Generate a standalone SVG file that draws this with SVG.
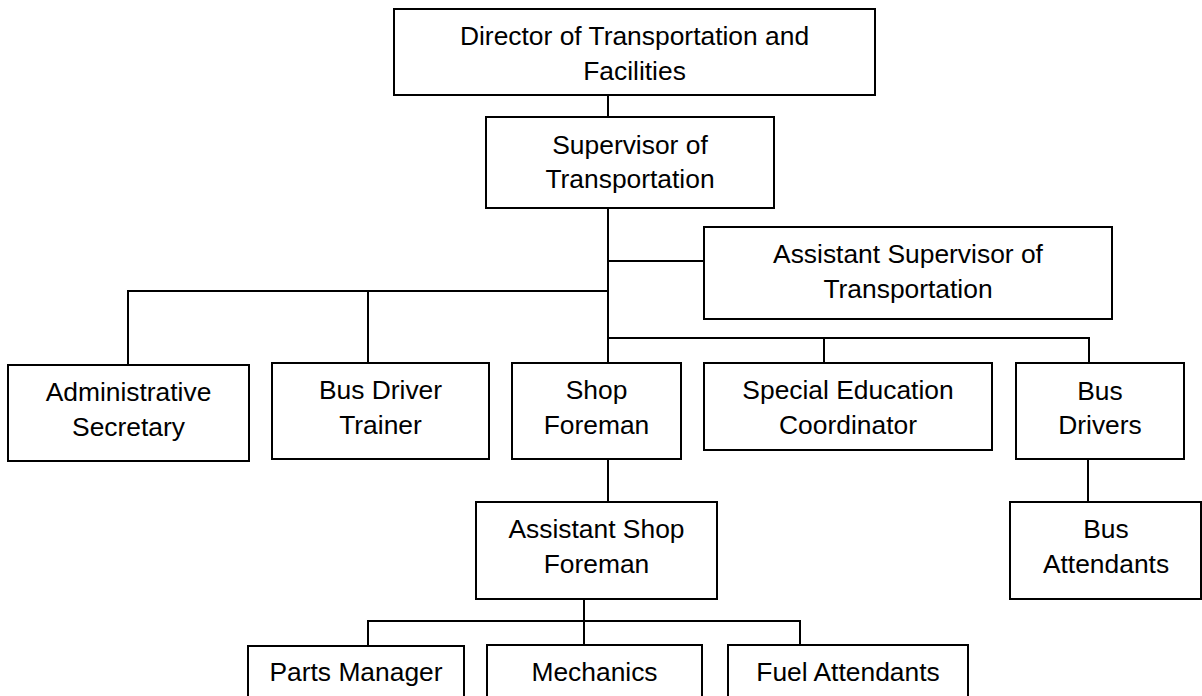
<svg xmlns="http://www.w3.org/2000/svg" width="1202" height="696" viewBox="0 0 1202 696">
<style>
.box{fill:#fff;stroke:#000;stroke-width:2}
.ln{fill:none;stroke:#000;stroke-width:2}
text{font-family:"Liberation Sans",Arial,sans-serif;font-size:26.4px;fill:#000;text-anchor:middle}
</style>
<rect width="1202" height="696" fill="#fff"/>
<g id="connectors" class="ln">
<path d="M608 95V117"/>
<path d="M608 208V363"/>
<path d="M608 261H704"/>
<path d="M128 365V291H608"/>
<path d="M368 291V363"/>
<path d="M608 338H1089V363"/>
<path d="M824 338V363"/>
<path d="M608 459V502"/>
<path d="M1088 459V502"/>
<path d="M584 599V645"/>
<path d="M368 646V621H800V645"/>
</g>
<g id="director"><rect class="box" x="394" y="9" width="481" height="86"/><text x="634.5" y="45">Director of Transportation and</text><text x="634.5" y="80">Facilities</text></g>
<g id="supervisor"><rect class="box" x="486" y="117" width="288" height="91"/><text x="630" y="154">Supervisor of</text><text x="630" y="188">Transportation</text></g>
<g id="asst-supervisor"><rect class="box" x="704" y="227" width="408" height="92"/><text x="908" y="263">Assistant Supervisor of</text><text x="908" y="298">Transportation</text></g>
<g id="admin-secretary"><rect class="box" x="8" y="365" width="241" height="96"/><text x="128.5" y="401">Administrative</text><text x="128.5" y="436">Secretary</text></g>
<g id="bus-driver-trainer"><rect class="box" x="272" y="363" width="217" height="96"/><text x="380.5" y="399">Bus Driver</text><text x="380.5" y="434">Trainer</text></g>
<g id="shop-foreman"><rect class="box" x="512" y="363" width="169" height="96"/><text x="596.5" y="399">Shop</text><text x="596.5" y="434">Foreman</text></g>
<g id="sped-coordinator"><rect class="box" x="704" y="363" width="288" height="87"/><text x="848" y="399">Special Education</text><text x="848" y="434">Coordinator</text></g>
<g id="bus-drivers"><rect class="box" x="1016" y="363" width="168" height="96"/><text x="1100" y="400">Bus</text><text x="1100" y="434">Drivers</text></g>
<g id="asst-shop-foreman"><rect class="box" x="476" y="502" width="241" height="97"/><text x="596.5" y="538">Assistant Shop</text><text x="596.5" y="573">Foreman</text></g>
<g id="bus-attendants"><rect class="box" x="1010" y="502" width="191" height="97"/><text x="1106" y="538">Bus</text><text x="1106" y="573">Attendants</text></g>
<g id="parts-manager"><rect class="box" x="248" y="646" width="216" height="70"/><text x="356" y="681">Parts Manager</text></g>
<g id="mechanics"><rect class="box" x="487" y="645" width="215" height="70"/><text x="594.5" y="681">Mechanics</text></g>
<g id="fuel-attendants"><rect class="box" x="728" y="645" width="240" height="70"/><text x="848" y="681">Fuel Attendants</text></g>
</svg>
